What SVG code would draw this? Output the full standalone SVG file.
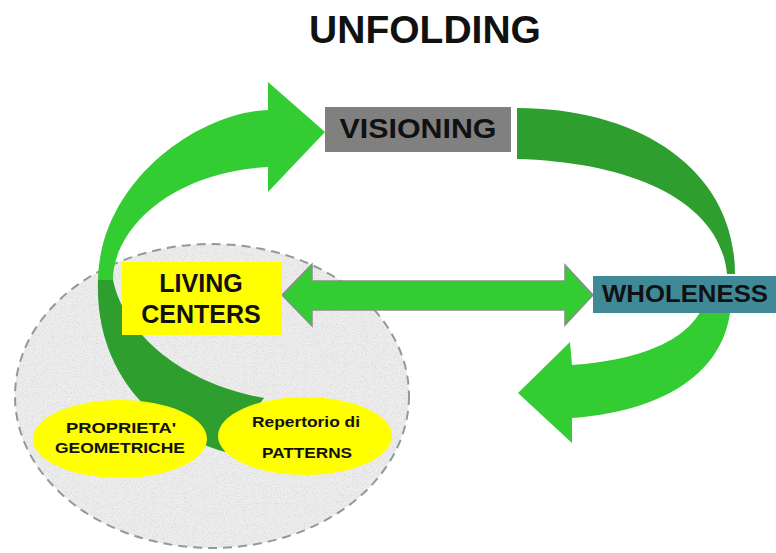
<svg xmlns="http://www.w3.org/2000/svg" width="776" height="553" viewBox="0 0 776 553">
  <style>
    .lbl { font-family: "Liberation Sans", Arial, sans-serif; font-weight: bold; fill: #111; text-anchor: middle; }
    .bright { fill: #33cc33; }
    .dark { fill: #2e9e2e; }
  </style>
  <defs>
    <!-- fine speckle used on the grey field -->
    <filter id="grain" x="0" y="0" width="100%" height="100%">
      <feTurbulence type="fractalNoise" baseFrequency="0.9" numOctaves="2" seed="7" result="n"/>
      <feColorMatrix in="n" type="matrix" values="0 0 0 0 0.6  0 0 0 0 0.6  0 0 0 0 0.6  1.8 0 0 0 -0.85" result="s"/>
      <feComposite in="s" in2="SourceAlpha" operator="in"/>
    </filter>
  </defs>

  <rect width="776" height="553" fill="#ffffff"/>

  <!-- title -->
  <text class="lbl" x="425" y="43" font-size="39">UNFOLDING</text>

  <!-- grey dashed field behind the living centers -->
  <g id="field">
    <ellipse cx="212" cy="396" rx="197" ry="152" fill="#ededed"/>
    <ellipse cx="212" cy="396" rx="197" ry="152" fill="#000" filter="url(#grain)"/>
    <ellipse cx="212" cy="396" rx="197" ry="152" fill="none" stroke="#8f9b9b" stroke-width="2" stroke-dasharray="9 6"/>
  </g>

  <g id="connectors">
    <!-- lower dark part of the left loop -->
    <path class="dark" d="M98,280 C95,365 145,428 225,452 L264,398 C190,385 126,340 113,280 Z"/>
    <!-- upper left arrow into VISIONING -->
    <path class="bright" d="M98,280 C100,180 200,112 268,110 L268,82 L325,132 L268,192 L268,167 C170,172 113,230 113,280 Z"/>
    <!-- dark arc from VISIONING to WHOLENESS -->
    <path class="dark" d="M517,108 C640,108 735,170 735,274 L727,274 C720,200 630,162 517,159 Z"/>
    <!-- bright arc leaving WHOLENESS, pointing back -->
    <path class="bright" d="M731,290 C735,360 680,410 572,418 L572,443 L518,393 L570,342 L572,365 C640,360 700,340 708,290 Z"/>
    <!-- double arrow LIVING CENTERS <-> WHOLENESS -->
    <path class="bright" stroke="#8c8c8c" stroke-width="1.5" stroke-linejoin="miter" d="M282,295 L312,264 L312,281 L565,281 L565,265 L593,295 L565,325 L565,310 L312,310 L312,326 Z"/>
  </g>

  <g id="visioning">
    <rect x="325" y="107" width="186" height="45" fill="#808080"/>
    <text class="lbl" x="418" y="138" font-size="28" textLength="157" lengthAdjust="spacingAndGlyphs">VISIONING</text>
  </g>

  <g id="wholeness">
    <rect x="593" y="276" width="183" height="37" fill="#408a98"/>
    <text class="lbl" x="685" y="302" font-size="23" textLength="166" lengthAdjust="spacingAndGlyphs">WHOLENESS</text>
  </g>

  <g id="living-centers">
    <rect x="122" y="262" width="160" height="73" fill="#ffff00"/>
    <text class="lbl" x="201" y="292" font-size="25">LIVING</text>
    <text class="lbl" x="201" y="323" font-size="25">CENTERS</text>
  </g>

  <g id="proprieta">
    <ellipse cx="120" cy="439" rx="87" ry="39" fill="#ffff00"/>
    <text class="lbl" x="121" y="433" font-size="15" textLength="110" lengthAdjust="spacingAndGlyphs">PROPRIETA'</text>
    <text class="lbl" x="120" y="453" font-size="15" textLength="130" lengthAdjust="spacingAndGlyphs">GEOMETRICHE</text>
  </g>

  <g id="repertorio">
    <ellipse cx="305" cy="436" rx="87" ry="39" fill="#ffff00"/>
    <text class="lbl" x="306" y="427" font-size="15" textLength="108" lengthAdjust="spacingAndGlyphs">Repertorio di</text>
    <text class="lbl" x="307" y="458" font-size="15" textLength="90" lengthAdjust="spacingAndGlyphs">PATTERNS</text>
  </g>
</svg>
